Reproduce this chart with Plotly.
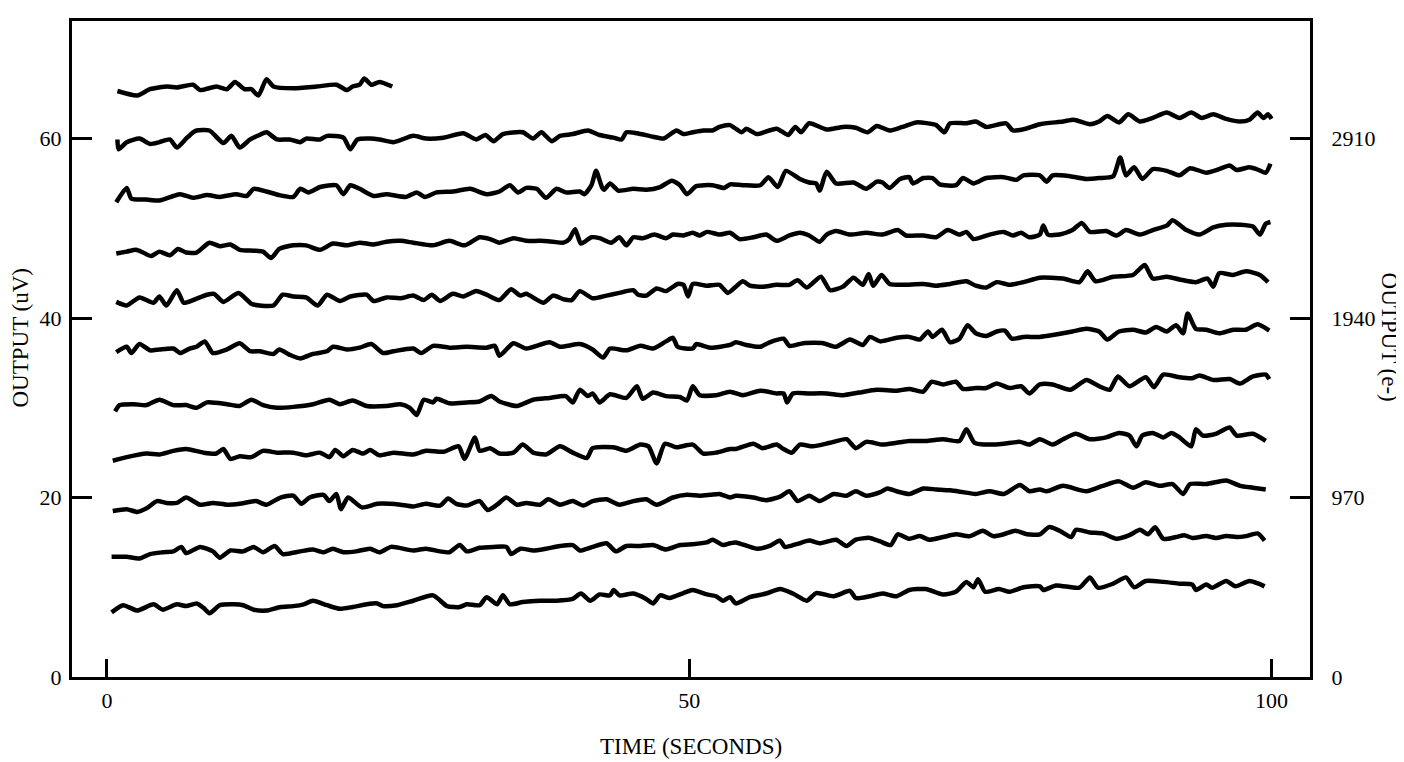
import plotly.graph_objects as go

# Axis ticks
x_ticks = [0, 50, 100]
y_ticks_uv = [0, 20, 40, 60]
y_ticks_e = [0, 970, 1940, 2910]
E_PER_UV = 970 / 20  # right axis scale: 970 e- per 20 uV

# Traces (time s, output uV), top to bottom
tr1 = [(0.9, 65.3), (2.6, 64.8), (3.7, 65.5), (5.2, 65.8), (6.0, 65.7), (7.4, 66.0), (8.0, 65.4),
       (9.4, 65.8), (10.3, 65.5), (11.0, 66.3), (11.8, 65.5), (12.4, 65.5), (13.0, 64.8), (13.7, 66.6),
       (14.3, 65.8), (16.0, 65.6), (18.0, 65.8), (19.7, 66.0), (20.6, 65.4), (21.1, 65.8), (21.7, 66.0),
       (22.1, 66.7), (22.7, 66.0), (23.4, 66.3), (24.5, 65.8)]

tr2 = [(0.9, 59.9), (1.0, 58.8), (1.7, 59.6), (2.8, 60.0), (3.7, 59.4), (4.5, 59.6), (5.4, 59.9), (6.0, 59.0),
       (6.8, 60.0), (7.4, 60.7), (7.7, 60.9), (8.8, 60.9), (10.0, 59.5), (10.7, 60.3), (11.4, 59.0), (12.3, 59.9),
       (13.1, 60.4), (13.7, 60.7), (14.6, 59.9), (15.7, 59.9), (16.6, 59.6), (17.1, 60.0), (18.3, 59.9), (18.9, 60.3),
       (20.3, 60.1), (20.9, 58.8), (21.5, 59.9), (22.6, 60.0), (23.4, 59.9), (24.6, 59.6),
       (26.3, 60.3), (27.4, 60.0), (28.9, 60.1), (30.6, 60.6), (31.7, 59.9), (32.5, 60.4), (33.2, 59.7), (34.0, 60.5),
       (35.7, 60.7), (36.6, 60.0), (37.3, 60.7), (38.2, 59.7), (38.9, 60.3), (40.0, 60.5), (41.3, 60.9), (42.3, 60.4),
       (43.5, 60.1), (44.2, 59.9), (44.6, 60.7), (45.5, 60.6), (46.9, 60.2), (47.8, 60.0), (48.9, 60.9), (49.5, 60.5),
       (50.3, 60.7), (51.2, 60.9), (52.0, 60.9), (52.6, 61.3), (53.5, 61.5),
       (54.5, 60.7), (54.9, 61.1), (55.8, 60.5), (57.5, 61.1), (58.5, 60.4), (59.1, 61.3), (59.6, 60.7), (60.3, 61.7),
       (61.8, 61.0), (63.2, 61.3), (64.3, 61.2), (65.3, 60.7), (66.1, 61.4), (67.2, 60.9), (68.3, 61.3), (69.5, 61.8),
       (71.2, 61.5), (71.9, 60.7), (72.4, 61.7), (73.8, 61.7), (74.6, 61.9), (75.5, 61.3), (77.2, 61.7), (77.8, 60.9),
       (78.9, 61.1), (80.1, 61.6),
       (82.1, 61.9), (83.0, 62.1), (84.4, 61.6), (85.2, 61.9), (85.9, 62.5), (86.9, 61.8), (87.7, 62.7), (88.7, 61.9),
       (89.8, 62.3), (91.0, 62.9), (92.1, 62.3), (93.1, 62.9), (94.0, 62.3), (95.0, 62.7), (96.1, 62.2), (97.3, 61.9),
       (98.1, 62.1), (98.8, 62.9), (99.3, 62.3), (99.7, 62.7), (100.0, 62.2)]

tr3 = [(0.8, 52.9), (1.7, 54.5), (2.1, 53.3), (3.4, 53.2), (4.5, 53.1), (5.7, 53.6), (6.3, 53.8), (7.4, 53.4),
       (8.6, 53.7), (9.7, 53.5), (11.1, 53.8), (12.0, 53.6), (12.6, 54.4), (13.7, 54.1), (14.8, 53.7), (16.0, 53.5),
       (16.6, 54.4), (17.3, 54.0), (18.3, 54.6), (19.7, 54.8), (20.3, 53.8), (20.9, 54.8), (21.7, 54.4), (22.9, 53.6),
       (24.0, 53.8),
       (25.7, 53.5), (26.6, 54.0), (27.3, 53.5), (28.3, 54.0), (29.7, 54.1), (31.2, 54.4), (32.6, 53.8), (33.7, 54.1),
       (34.6, 54.8), (35.3, 54.0), (36.0, 54.5), (36.9, 54.4), (37.7, 53.4), (38.6, 54.4), (39.4, 54.0), (40.6, 54.1),
       (41.0, 53.8), (41.6, 54.8), (42.0, 56.4), (42.5, 54.6), (42.7, 54.3), (43.2, 55.0), (43.9, 54.2), (45.2, 54.4),
       (46.3, 54.3), (47.5, 54.6), (48.5, 55.3), (49.2, 54.8), (49.8, 53.8), (50.6, 54.7), (52.0, 54.8), (53.0, 54.5),
       (53.5, 54.9),
       (54.6, 54.8), (56.1, 54.8), (56.8, 55.7), (57.6, 54.6), (58.3, 56.4), (59.5, 55.5), (60.3, 55.1), (60.9, 55.0),
       (61.2, 54.2), (61.8, 56.3), (62.6, 55.0), (64.1, 55.1), (65.2, 54.4), (66.1, 55.2), (66.6, 55.1), (67.2, 54.5),
       (68.1, 55.5), (68.9, 55.7), (69.2, 55.0), (70.1, 55.6), (70.9, 55.6), (71.5, 54.9), (72.9, 54.8), (73.5, 55.6),
       (74.4, 55.0), (75.5, 55.6), (77.0, 55.7), (78.1, 55.4), (78.7, 55.9), (80.1, 55.9),
       (80.7, 55.2), (81.2, 55.9), (82.7, 55.8), (84.1, 55.5), (85.2, 55.6), (86.4, 55.8), (87.0, 57.9), (87.5, 55.9),
       (88.2, 56.8), (88.9, 55.5), (89.8, 56.6), (91.0, 56.4), (92.1, 55.9), (93.0, 56.7), (94.4, 56.2), (95.5, 56.6),
       (96.4, 57.0), (97.0, 56.5), (98.1, 56.8), (98.7, 56.6), (99.5, 56.2), (99.9, 57.2)]

tr4 = [(0.8, 47.2), (1.7, 47.4), (2.5, 47.6), (3.1, 47.3), (3.8, 46.9), (4.5, 47.4), (5.4, 47.0), (6.1, 47.7),
       (6.8, 47.3), (7.7, 47.3), (8.8, 48.4), (9.7, 48.0), (10.6, 48.2), (11.4, 47.6), (12.6, 47.5), (13.4, 47.4),
       (14.1, 46.7), (14.8, 47.7), (16.0, 48.1), (17.1, 48.1), (18.3, 47.6), (19.4, 48.3), (20.6, 48.1), (21.7, 48.4),
       (22.9, 48.2), (24.0, 48.5),
       (25.2, 48.6), (26.3, 48.4), (28.0, 48.1), (29.4, 48.6), (30.7, 48.1), (32.0, 49.0), (32.9, 48.8), (33.7, 48.4),
       (34.9, 48.9), (36.0, 48.6), (37.2, 48.6), (38.3, 48.5), (39.2, 48.4), (39.7, 48.8), (40.2, 49.9), (40.7, 48.3),
       (41.6, 49.0), (42.3, 48.9), (43.3, 48.4), (44.0, 49.0), (44.6, 48.1), (45.2, 49.0), (46.0, 48.9), (47.0, 49.3),
       (48.0, 48.9), (48.6, 49.3), (49.5, 49.2), (50.3, 49.5), (50.9, 49.2), (51.5, 49.6), (52.6, 49.3), (53.5, 49.5),
       (54.3, 48.8), (55.5, 49.0), (56.6, 49.3), (57.5, 48.6), (58.6, 49.2), (59.5, 49.5), (60.3, 49.2), (61.2, 48.5),
       (61.8, 49.3), (62.6, 49.7), (63.8, 49.3), (65.2, 49.5), (66.6, 49.3), (67.9, 49.8), (68.6, 49.2), (70.1, 49.2),
       (71.2, 49.0), (72.2, 49.8), (73.2, 49.3), (73.8, 49.6), (74.4, 48.8), (75.8, 49.3), (77.0, 49.6), (77.8, 49.2),
       (78.5, 49.5), (79.2, 49.0), (80.1, 49.3),
       (80.4, 50.3), (80.8, 49.3), (81.8, 49.3), (82.9, 49.8), (83.7, 50.6), (84.4, 49.6), (85.8, 49.7), (86.7, 49.2),
       (87.5, 49.8), (88.7, 49.3), (89.8, 49.8), (91.0, 50.3), (91.5, 50.9), (92.7, 49.8), (93.8, 49.3), (95.0, 50.1),
       (96.1, 50.4), (97.3, 50.4), (98.4, 50.2), (99.0, 49.3), (99.5, 50.5), (99.9, 50.7)]

tr5 = [(0.8, 41.8), (1.7, 41.4), (2.8, 42.3), (4.0, 41.7), (4.5, 42.4), (5.1, 41.4), (6.0, 43.1), (6.6, 41.7),
       (7.4, 42.0), (8.6, 42.6), (9.2, 42.7), (10.0, 41.8), (11.3, 42.8), (12.4, 41.6), (13.1, 41.4), (14.3, 41.4),
       (15.1, 42.6), (16.0, 42.4), (17.1, 42.3), (18.1, 41.4), (18.9, 42.6), (20.0, 41.9), (20.9, 42.4), (22.3, 42.6),
       (22.9, 41.9), (24.0, 42.3),
       (25.2, 42.2), (26.3, 42.5), (27.2, 42.0), (27.9, 42.6), (28.6, 41.9), (29.7, 42.7), (30.6, 42.4), (31.7, 43.0),
       (32.6, 42.6), (33.7, 42.0), (34.7, 43.2), (35.5, 42.5), (36.0, 42.7), (37.5, 41.7), (38.3, 42.5), (39.2, 42.1),
       (39.9, 42.0), (40.6, 43.0), (41.7, 42.2), (42.9, 42.5), (44.0, 42.8), (45.2, 43.1), (45.6, 42.6), (46.3, 42.5),
       (47.2, 43.3), (48.0, 43.0), (49.0, 43.8), (49.5, 43.7), (49.9, 42.4), (50.3, 43.8), (51.5, 43.6), (52.6, 43.7),
       (53.3, 42.8),
       (54.0, 43.5), (54.6, 44.1), (55.2, 43.6), (56.3, 43.5), (57.5, 43.7), (58.6, 43.7), (59.3, 44.2), (60.1, 43.4),
       (61.3, 44.6), (62.1, 43.1), (63.2, 43.5), (64.1, 44.5), (64.9, 43.7), (65.4, 44.9), (65.8, 43.6), (66.5, 44.8),
       (67.2, 43.8), (68.3, 43.7), (70.1, 43.8), (71.2, 43.6), (72.4, 43.8), (73.8, 44.1), (74.6, 43.6), (75.5, 43.4),
       (76.4, 44.0), (77.5, 43.7), (78.7, 44.0), (80.1, 44.5),
       (82.1, 44.4), (83.5, 44.0), (84.2, 45.2), (84.9, 44.1), (86.4, 44.6), (88.1, 44.8), (89.1, 45.9), (89.8, 44.4),
       (91.0, 44.6), (92.1, 44.3), (93.5, 44.0), (94.5, 44.4), (95.0, 43.5), (95.5, 45.0), (96.7, 44.8), (97.8, 45.2),
       (99.0, 44.8), (99.7, 44.0)]

tr6 = [(0.8, 36.2), (1.7, 36.8), (2.1, 36.1), (2.8, 37.1), (3.7, 36.4), (4.5, 36.5), (5.7, 36.6), (6.3, 36.1),
       (7.1, 36.6), (7.7, 36.8), (8.4, 37.4), (9.1, 36.1), (10.3, 36.5), (11.4, 37.2), (12.3, 36.3), (13.1, 36.3),
       (14.3, 36.0), (14.8, 36.5), (15.7, 35.9), (16.6, 35.5), (17.7, 36.0), (18.9, 36.3), (19.4, 36.8), (20.6, 36.5),
       (21.7, 36.7), (22.7, 37.1), (23.7, 36.1), (24.6, 36.3),
       (26.3, 36.6), (27.0, 36.1), (28.0, 36.9), (29.4, 36.7), (30.9, 36.8), (32.6, 36.7), (33.3, 36.9), (33.7, 35.8),
       (34.9, 37.2), (36.0, 36.6), (38.0, 37.3), (38.9, 36.8), (40.6, 37.1), (41.7, 36.5), (42.6, 35.6), (43.2, 36.6),
       (44.6, 36.4), (45.8, 36.9), (46.9, 36.6), (48.0, 37.4), (48.6, 37.8), (49.0, 36.8), (50.3, 36.6), (50.6, 37.1),
       (51.8, 36.7), (53.5, 37.0),
       (54.0, 37.3), (54.9, 37.0), (56.1, 36.8), (56.9, 37.3), (58.1, 37.7), (58.6, 36.9), (59.8, 37.2), (61.5, 37.2),
       (62.6, 36.8), (63.8, 37.6), (64.9, 37.0), (65.5, 37.9), (66.4, 37.4), (67.8, 37.8), (68.9, 37.9), (69.8, 37.6),
       (70.5, 38.5), (70.9, 37.9), (71.7, 38.7), (72.4, 37.3), (73.2, 37.7), (73.9, 39.2), (74.6, 38.3), (75.5, 38.0),
       (76.4, 38.5), (77.1, 38.6), (77.7, 37.7), (78.7, 37.9), (80.1, 37.9),
       (81.2, 38.1), (82.9, 38.5), (84.1, 38.8), (85.2, 38.5), (85.9, 37.6), (86.9, 38.5), (88.1, 38.7), (89.2, 38.4),
       (90.1, 39.0), (91.0, 38.5), (91.8, 39.2), (92.4, 38.3), (92.8, 40.5), (93.5, 38.8), (94.4, 38.7), (95.5, 38.3),
       (96.7, 38.7), (97.8, 38.7), (98.8, 39.3), (99.8, 38.6)]

tr7 = [(0.7, 29.6), (1.1, 30.3), (2.3, 30.4), (3.4, 30.3), (4.5, 30.9), (5.7, 30.3), (6.8, 30.3), (7.7, 30.0),
       (8.6, 30.6), (10.3, 30.4), (11.4, 30.2), (12.4, 30.9), (13.4, 30.3), (14.6, 30.0), (16.0, 30.1), (17.7, 30.4),
       (19.1, 30.9), (20.0, 30.4), (21.1, 30.8), (22.3, 30.2), (24.0, 30.2),
       (25.2, 30.4), (26.0, 30.0), (26.6, 29.2), (27.2, 30.9), (28.0, 30.6), (28.3, 31.0), (29.4, 30.5), (30.9, 30.6),
       (32.0, 30.7), (33.0, 31.3), (33.7, 30.7), (35.2, 30.2), (36.6, 30.9), (38.0, 31.1), (39.4, 31.3), (40.0, 30.6),
       (40.6, 32.0), (41.3, 31.3), (41.7, 31.6), (42.3, 30.6), (43.2, 31.5), (44.6, 31.1), (45.5, 32.4), (46.0, 31.0),
       (46.9, 31.7), (48.0, 31.3), (49.2, 31.2), (49.8, 30.8), (50.3, 32.4), (50.9, 31.4), (52.3, 31.4), (53.5, 31.8),
       (54.6, 31.4), (56.1, 31.9), (57.5, 31.6), (58.1, 31.6), (58.4, 30.6), (58.9, 31.6), (60.3, 31.6), (61.8, 31.6),
       (63.2, 31.4), (64.6, 31.7), (66.1, 32.0), (67.8, 31.9), (68.9, 32.1), (70.1, 31.8), (70.8, 32.9), (71.8, 32.6),
       (72.9, 32.9), (73.5, 32.1), (74.6, 32.2), (75.5, 32.2), (76.4, 32.7), (77.5, 32.2), (78.5, 32.4), (79.2, 31.6),
       (80.1, 32.6),
       (81.2, 32.6), (82.7, 32.0), (84.1, 33.1), (85.2, 32.4), (86.1, 32.0), (86.8, 33.5), (87.8, 32.4), (89.2, 33.4),
       (89.9, 32.3), (90.7, 33.7), (92.1, 33.4), (93.2, 33.3), (93.8, 33.6), (95.0, 33.1), (96.4, 33.2), (97.3, 32.7),
       (98.4, 33.5), (99.5, 33.7), (99.8, 33.2)]

tr8 = [(0.5, 24.1), (1.7, 24.5), (3.4, 24.9), (4.5, 24.8), (5.7, 25.2), (6.8, 25.4), (8.3, 25.0), (9.4, 24.9),
       (10.0, 25.4), (10.6, 24.3), (11.4, 24.6), (12.4, 24.5), (13.4, 25.2), (14.6, 25.0), (16.0, 25.0), (17.1, 24.7),
       (18.3, 25.0), (19.1, 24.5), (19.6, 25.3), (20.3, 24.6), (21.1, 25.3), (22.0, 24.9), (22.6, 25.3), (23.4, 24.7),
       (24.6, 25.0),
       (26.3, 24.8), (27.4, 25.2), (28.9, 25.1), (30.2, 25.7), (30.7, 24.3), (31.6, 26.7), (32.0, 25.2), (32.9, 25.5),
       (33.7, 24.9), (34.9, 25.0), (35.7, 25.9), (36.6, 25.0), (37.7, 24.8), (38.9, 25.7), (40.0, 25.0), (41.2, 24.4),
       (41.7, 25.5), (43.5, 25.6), (44.6, 25.2), (45.8, 25.9), (46.5, 25.7), (47.2, 23.8), (47.9, 26.0), (48.9, 25.6),
       (50.3, 25.9), (51.2, 24.9), (52.3, 25.0), (53.5, 25.4),
       (54.0, 25.4), (55.5, 26.0), (56.3, 25.5), (57.5, 25.9), (58.1, 25.4), (58.8, 25.0), (59.5, 25.9), (60.6, 25.7),
       (62.1, 26.1), (63.5, 26.5), (64.3, 25.5), (65.2, 26.2), (66.6, 25.9), (67.8, 26.1), (68.9, 26.3), (70.3, 26.3),
       (71.8, 26.5), (73.2, 26.3), (73.8, 27.6), (74.5, 26.1), (75.8, 25.9), (77.0, 26.0), (78.4, 26.2), (79.2, 25.9),
       (80.1, 26.5),
       (81.2, 25.9), (82.1, 26.5), (83.2, 27.1), (84.4, 26.5), (85.8, 26.7), (86.9, 27.2), (87.8, 26.9), (88.4, 25.7),
       (88.9, 26.9), (89.8, 27.2), (90.7, 26.7), (91.4, 27.2), (92.1, 26.7), (93.1, 25.7), (93.5, 27.6), (94.1, 26.9),
       (95.2, 27.1), (96.4, 27.8), (97.0, 26.9), (98.4, 27.1), (99.5, 26.3)]

tr9 = [(0.5, 18.5), (1.7, 18.7), (2.6, 18.4), (3.4, 18.8), (4.3, 19.6), (5.1, 19.4), (6.0, 19.4), (6.8, 20.0),
       (8.0, 19.2), (9.1, 19.4), (10.3, 19.2), (11.4, 19.3), (12.8, 19.6), (13.7, 19.2), (14.9, 20.0), (16.0, 20.2),
       (16.7, 19.3), (17.4, 20.0), (18.6, 20.3), (19.1, 19.6), (19.7, 20.4), (20.1, 18.7), (20.7, 20.0), (21.9, 18.9),
       (23.2, 19.3), (24.3, 19.3),
       (25.2, 19.2), (26.3, 19.0), (27.4, 19.3), (28.6, 19.1), (29.3, 19.9), (30.0, 19.3), (30.9, 19.1), (32.0, 19.6),
       (32.7, 18.6), (33.5, 19.2), (34.3, 20.0), (35.2, 19.2), (36.0, 19.4), (37.2, 19.2), (37.9, 19.8), (38.9, 19.2),
       (40.0, 19.6), (40.9, 19.1), (41.7, 19.6), (42.9, 19.8), (44.0, 19.2), (45.2, 19.6), (46.3, 19.8), (47.2, 19.2),
       (48.6, 20.0), (49.8, 20.3), (50.9, 20.2), (51.8, 20.3), (52.6, 20.4), (53.5, 20.0),
       (54.0, 20.2), (55.5, 20.0), (56.6, 19.7), (57.8, 20.1), (58.6, 20.7), (59.3, 19.6), (60.3, 20.2), (61.2, 19.6),
       (62.4, 20.4), (63.5, 20.2), (64.3, 20.7), (65.2, 20.2), (66.4, 20.6), (67.0, 21.0), (67.8, 20.7), (68.9, 20.4),
       (70.1, 21.0), (71.2, 20.9), (72.4, 20.8), (73.5, 20.6), (74.6, 20.4), (75.8, 20.7), (77.0, 20.4), (78.4, 21.4),
       (79.2, 20.7), (80.1, 20.9),
       (80.7, 20.7), (82.1, 21.3), (84.1, 20.7), (85.5, 21.3), (86.9, 21.8), (88.1, 21.1), (89.2, 21.7), (90.4, 21.3),
       (91.5, 21.5), (92.4, 20.4), (93.0, 21.5), (94.4, 21.5), (96.1, 21.9), (97.3, 21.3), (98.4, 21.1), (99.5, 20.9)]

tr10 = [(0.4, 13.4), (1.7, 13.4), (2.8, 13.2), (3.7, 13.7), (4.8, 13.9), (5.7, 14.0), (6.4, 14.5), (6.8, 13.8),
        (8.0, 14.5), (9.1, 14.0), (9.7, 13.3), (10.6, 14.1), (11.7, 14.0), (12.6, 14.5), (13.4, 13.9), (14.4, 14.6),
        (15.1, 13.7), (16.6, 14.0), (17.7, 14.2), (18.6, 13.9), (19.4, 14.3), (20.3, 13.9), (21.4, 14.0), (22.6, 14.3),
        (23.4, 13.9), (24.4, 14.5),
        (26.3, 14.1), (27.4, 14.3), (28.6, 14.0), (29.4, 13.9), (30.3, 14.7), (30.9, 14.0), (32.0, 14.4), (33.2, 14.5),
        (34.3, 14.5), (34.7, 13.7), (35.5, 14.3), (36.6, 14.1), (37.7, 14.3), (38.9, 14.6), (40.0, 14.7), (40.6, 14.1),
        (41.7, 14.5), (42.9, 14.9), (43.7, 14.0), (44.6, 14.6), (45.8, 14.6), (46.9, 14.7), (48.0, 14.2), (49.2, 14.7),
        (50.3, 14.8), (51.5, 15.0), (52.0, 15.3), (52.9, 14.7), (53.5, 14.9),
        (54.0, 15.0), (55.8, 14.3), (56.9, 14.6), (57.8, 15.2), (58.2, 14.5), (59.2, 14.8), (60.3, 15.2), (61.2, 14.9),
        (62.6, 15.3), (63.5, 14.6), (64.3, 15.3), (65.5, 15.5), (66.4, 15.1), (67.3, 14.7), (67.9, 15.9), (68.9, 15.4),
        (69.8, 15.7), (70.6, 15.3), (71.8, 15.6), (72.9, 15.9), (74.1, 15.7), (75.2, 16.3), (76.1, 15.7), (77.0, 15.9),
        (78.0, 16.3), (79.0, 15.9), (80.1, 15.9),
        (80.9, 16.7), (81.8, 16.3), (82.8, 15.6), (83.2, 16.4), (84.4, 16.1), (85.5, 16.0), (86.7, 15.4), (87.8, 15.8),
        (88.7, 16.4), (89.4, 15.9), (90.0, 16.7), (90.7, 15.4), (91.8, 15.6), (92.5, 15.8), (93.2, 15.5), (94.4, 15.7),
        (95.2, 15.5), (96.1, 15.7), (97.0, 15.6), (97.8, 15.7), (98.8, 16.0), (99.4, 15.2)]

tr11 = [(0.4, 7.2), (1.4, 8.0), (2.6, 7.4), (4.0, 8.1), (4.8, 7.5), (6.0, 8.1), (6.8, 7.9), (7.7, 8.2),
        (8.3, 7.7), (8.8, 7.1), (9.7, 8.0), (10.9, 8.1), (11.7, 8.0), (12.6, 7.5), (13.7, 7.4), (14.9, 7.8),
        (16.0, 7.9), (16.9, 8.1), (17.7, 8.5), (18.9, 8.0), (20.0, 7.6), (21.1, 7.8), (22.3, 8.1), (23.2, 8.2),
        (23.7, 7.9), (24.9, 8.0),
        (26.3, 8.5), (28.0, 9.1), (29.2, 7.9), (30.3, 7.8), (30.9, 8.1), (32.0, 8.0), (32.6, 8.9), (33.5, 8.1),
        (34.0, 9.1), (34.6, 8.1), (35.7, 8.35), (37.2, 8.5), (38.6, 8.5), (40.0, 8.7), (40.7, 9.3), (41.5, 8.5),
        (42.3, 9.2), (43.2, 9.1), (43.5, 9.7), (44.0, 9.1), (45.2, 9.3), (46.3, 8.7), (46.9, 8.2), (47.5, 9.1),
        (48.3, 8.8), (49.5, 9.35), (50.3, 9.7), (51.5, 9.2), (52.3, 9.0), (52.9, 8.5), (53.5, 8.9),
        (54.0, 8.2), (55.2, 8.9), (56.6, 9.3), (57.8, 9.8), (58.9, 9.3), (60.1, 8.5), (60.9, 9.35), (62.4, 9.0),
        (63.8, 9.6), (64.3, 8.8), (65.5, 9.0), (66.6, 9.3), (67.8, 9.0), (68.9, 9.7), (70.3, 9.8), (71.8, 9.2),
        (72.9, 9.5), (73.8, 10.6), (74.4, 10.0), (74.8, 10.9), (75.4, 9.5), (76.6, 9.8), (77.5, 9.5), (78.7, 10.0),
        (80.1, 10.1),
        (80.4, 9.7), (81.5, 10.2), (83.5, 9.95), (84.4, 11.1), (85.1, 9.95), (86.4, 10.4), (87.5, 11.1), (88.2, 10.0),
        (89.2, 10.7), (90.7, 10.6), (92.1, 10.4), (93.2, 10.3), (93.5, 9.7), (94.4, 10.3), (94.9, 9.95), (96.1, 10.7),
        (96.9, 10.1), (98.1, 10.7), (98.9, 10.4), (99.4, 10.1)]

traces = [tr1, tr2, tr3, tr4, tr5, tr6, tr7, tr8, tr9, tr10, tr11]

FONT = "Liberation Serif"
fig = go.Figure()
for tr in traces:
    fig.add_trace(go.Scatter(
        x=[p[0] for p in tr], y=[p[1] for p in tr], mode="lines",
        line=dict(color="black", width=4.5, shape="spline", smoothing=0.6),
        showlegend=False, hoverinfo="skip"))

# Empty trace so that the right-hand (electrons) axis is drawn
fig.add_trace(go.Scatter(x=[None], y=[None], yaxis="y2", mode="lines",
                         showlegend=False, hoverinfo="skip"))

axis_common = dict(showgrid=False, zeroline=False, showline=True, linecolor="black",
                   linewidth=3, ticks="inside", tickcolor="black", tickwidth=2.5,
                   tickfont=dict(family=FONT, size=22, color="black"))

Y_MAX = 73.1
fig.update_layout(
    width=1396, height=754,
    margin=dict(l=64, r=94, t=10, b=85),
    paper_bgcolor="white", plot_bgcolor="white",
    font=dict(family=FONT, size=22, color="black"),
    xaxis=dict(range=[-3.0, 103.3], tickvals=x_ticks, ticklen=18, mirror=True,
               ticklabelstandoff=2, **axis_common),
    yaxis=dict(range=[0, Y_MAX], tickvals=y_ticks_uv, ticklen=20,
               ticklabelstandoff=3, **axis_common),
    yaxis2=dict(range=[0, Y_MAX * E_PER_UV], tickvals=y_ticks_e, ticklen=20, overlaying="y",
                side="right", anchor="x", ticklabelstandoff=14, **axis_common),
    annotations=[
        dict(text="TIME (SECONDS)", xref="paper", yref="paper", x=0.5, y=0, yanchor="top",
             xanchor="center", yshift=-55, showarrow=False, font=dict(family=FONT, size=23)),
        dict(text="OUTPUT (uV)", xref="paper", yref="paper", x=0, y=0.516, xanchor="center",
             yanchor="middle", xshift=-51, textangle=-90, showarrow=False, font=dict(family=FONT, size=23)),
        dict(text="OUTPUT (e-)", xref="paper", yref="paper", x=1, y=0.519, xanchor="center",
             yanchor="middle", xshift=79, textangle=90, showarrow=False, font=dict(family=FONT, size=23)),
    ],
)

fig.write_html("out.html")
